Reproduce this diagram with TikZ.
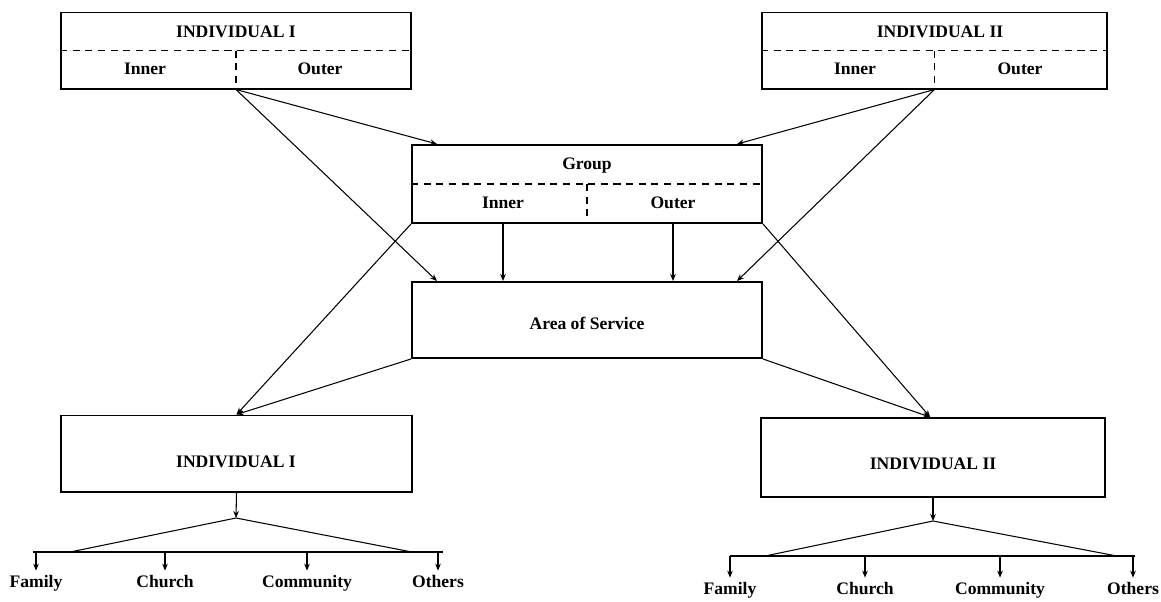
\documentclass[tikz,border=0pt]{standalone}
\usepackage{fontspec}
\setmainfont{Liberation Serif}
\usetikzlibrary{arrows.meta}
\tikzset{
  box/.style={draw, line width=1.4pt, minimum width=8.75cm, minimum height=1.9cm, inner sep=0pt},
  lab/.style={font=\bfseries\fontsize{12.5}{14}\selectfont, inner sep=1pt, text height=1.5ex, text depth=0.5ex, yshift=-1pt},
  part/.style={line width=0.9pt, dash pattern=on 5pt off 4pt},
  link/.style={-{Stealth[length=5pt,width=4pt]}, line width=0.75pt},
}
\begin{document}
\begin{tikzpicture}[x=0.025cm, y=-0.025cm]
\useasboundingbox (0,0) rectangle (1161,601);
% Top boxes
\node[box] (ind1) at (236,50.5) {};
\node[lab] (ind1t) at (236,33) {INDIVIDUAL I};
\node[lab] (ind1i) at (145,70) {Inner};
\node[lab] (ind1o) at (320,70) {Outer};
\draw[part] (ind1.west) -- (ind1.east);
\draw[part] (ind1.center) -- (ind1.south);

\node[box, minimum width=8.62cm] (ind2) at (934.5,50.5) {};
\node[lab] (ind2t) at (940,33) {INDIVIDUAL II};
\node[lab] (ind2i) at (855,70) {Inner};
\node[lab] (ind2o) at (1020,70) {Outer};
\draw[part] (ind2.west) -- (ind2.east);
\draw[part] (ind2.center) -- (ind2.south);

% Group and area of service
\node[box, minimum height=1.95cm] (grp) at (587,184) {};
\node[lab] (grpt) at (587,165) {Group};
\node[lab] (grpi) at (503,204) {Inner};
\node[lab] (grpo) at (673,204) {Outer};
\draw[part] (grp.west) -- (grp.east);
\draw[part] (grp.center) -- (grp.south);

\node[box] (area) at (587,320) {};
\node[lab] (areat) at (587,325) {Area of Service};

% Bottom boxes
\node[box] (ind1b) at (236.5,453.5) {};
\node[lab] (ind1bt) at (236,463) {INDIVIDUAL I};
\node[box, minimum width=8.6cm, minimum height=1.97cm] (ind2b) at (933,457.5) {};
\node[lab] (ind2bt) at (933,465) {INDIVIDUAL II};

% Links
\draw[link] (ind1.south) -- ([xshift=0.65cm]grp.north west);
\draw[link] (ind1.south) -- ([xshift=0.65cm]area.north west);
\draw[link] (ind2.south) -- ([xshift=-0.65cm]grp.north east);
\draw[link] (ind2.south) -- ([xshift=-0.65cm]area.north east);
\draw[link] (grpi |- grp.south) -- (grpi |- area.north);
\draw[link] (grpo |- grp.south) -- (grpo |- area.north);
\draw[link] (grp.south west) -- (ind1b.north);
\draw[link] (area.south west) -- (ind1b.north);
\draw[link] (grp.south east) -- ([xshift=-0.07cm]ind2b.north);
\draw[link] (area.south east) -- ([xshift=-0.07cm]ind2b.north);

% Spread of individual I
\coordinate (f1) at (236,518);
\coordinate (s1l) at (70,552);
\coordinate (s1r) at (412,552);
\coordinate (h1l) at (33,552);
\coordinate (h1r) at (443,552);
\draw[link] (ind1b.south) -- (f1);
\draw[line width=0.75pt] (s1l) -- (f1) -- (s1r);
\draw[line width=0.9pt] (h1l) -- (h1r);
\node[lab] (fam1) at (36,583) {Family};
\node[lab] (chu1) at (165,583) {Church};
\node[lab] (com1) at (307,583) {Community};
\node[lab] (oth1) at (438,583) {Others};
\foreach \n in {fam1,chu1,com1,oth1}
  \draw[link, shorten >=4pt] (\n |- h1l) -- (\n.north);

% Spread of individual II
\coordinate (f2) at (933,521);
\coordinate (s2l) at (765,556);
\coordinate (s2r) at (1117,556);
\coordinate (h2l) at (730,556);
\coordinate (h2r) at (1135,556);
\draw[link] (ind2b.south) -- (f2);
\draw[line width=0.75pt] (s2l) -- (f2) -- (s2r);
\draw[line width=0.9pt] (h2l) -- (h2r);
\node[lab] (fam2) at (730,590) {Family};
\node[lab] (chu2) at (865,590) {Church};
\node[lab] (com2) at (1000,590) {Community};
\node[lab] (oth2) at (1133,590) {Others};
\foreach \n in {fam2,chu2,com2,oth2}
  \draw[link, shorten >=4pt] (\n |- h2l) -- (\n.north);
\end{tikzpicture}
\end{document}
